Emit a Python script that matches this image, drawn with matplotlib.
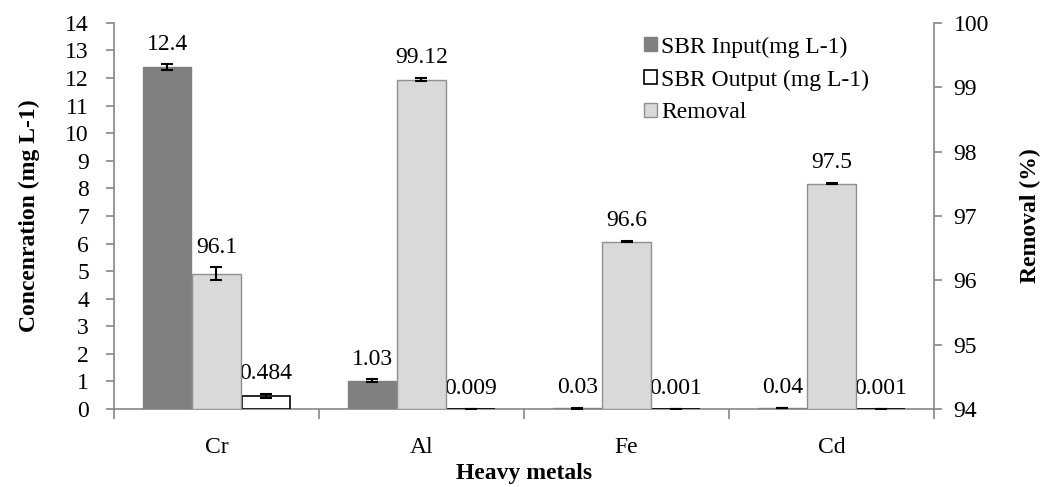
import numpy as np
import matplotlib.pyplot as plt

plt.rcParams['font.family'] = ['Liberation Serif', 'DejaVu Serif']

metals = ['Cr', 'Al', 'Fe', 'Cd']
sbr_input = [12.4, 1.03, 0.03, 0.04]
input_err = [0.1, 0.05, 0.01, 0.01]
sbr_output = [0.484, 0.009, 0.001, 0.001]
output_err = [0.08, 0.003, 0.001, 0.001]
removal = [96.1, 99.12, 96.6, 97.5]
removal_err = [0.1, 0.03, 0.01, 0.01]

input_lbl = ['12.4', '1.03', '0.03', '0.04']
output_lbl = ['0.484', '0.009', '0.001', '0.001']
removal_lbl = ['96.1', '99.12', '96.6', '97.5']

gray_axis = '#868686'
fs = 17

fig = plt.figure(figsize=(10.4, 4.87), dpi=100)
ax = fig.add_axes([0.1096, 0.160, 0.7885, 0.793])
ax2 = ax.twinx()

x = np.arange(len(metals))
w = 0.235
off = 0.24
ekw = dict(elinewidth=1.5, capthick=1.5)

b1 = ax.bar(x - off, sbr_input, w, color='#808080', edgecolor='#808080',
            yerr=input_err, capsize=4, error_kw=ekw, zorder=3)
b3 = ax.bar(x + off, sbr_output, w, color='white', edgecolor='black', linewidth=1.2,
            yerr=output_err, capsize=4, error_kw=ekw, zorder=3)
b2 = ax2.bar(x, np.array(removal) - 94, w, bottom=94, color='#d9d9d9', edgecolor='#909090',
             yerr=removal_err, capsize=4, error_kw=ekw, zorder=3)

for xi, v, e, t in zip(x - off, sbr_input, input_err, input_lbl):
    ax.annotate(t, (xi, v + e), xytext=(0, 7), textcoords='offset points',
                ha='center', va='bottom', fontsize=fs)
for xi, v, e, t in zip(x + off, sbr_output, output_err, output_lbl):
    ax.annotate(t, (xi, v + e), xytext=(0, 7), textcoords='offset points',
                ha='center', va='bottom', fontsize=fs)
for xi, v, e, t in zip(x, removal, removal_err, removal_lbl):
    ax2.annotate(t, (xi, v + e), xytext=(0, 7), textcoords='offset points',
                 ha='center', va='bottom', fontsize=fs)

ax.set_xlim(-0.5, len(metals) - 0.5)
ax.set_ylim(0, 14)
ax.set_yticks(range(0, 15))
ax2.set_ylim(94, 100)
ax2.set_yticks(range(94, 101))

ax.set_xticks(x)
ax.set_xticklabels(metals, fontsize=fs)
ax.set_xticks(np.arange(-0.5, len(metals)), minor=True)
ax.tick_params(axis='x', which='major', length=0, pad=20)
ax.tick_params(axis='x', which='minor', length=7, color=gray_axis, width=1.2)
ax.tick_params(axis='y', labelsize=fs, length=6, color=gray_axis, width=1.2, pad=12)
ax2.tick_params(axis='y', labelsize=fs, length=6, color=gray_axis, width=1.2, pad=8)

for a in (ax, ax2):
    a.spines['top'].set_visible(False)
    for s in ('left', 'right', 'bottom'):
        a.spines[s].set_color(gray_axis)
        a.spines[s].set_linewidth(1.2)
ax.spines['right'].set_visible(False)
ax2.spines['left'].set_visible(False)
ax2.spines['bottom'].set_visible(False)

ax.set_xlabel('Heavy metals', fontsize=fs, fontweight='bold', labelpad=4)
ax.set_ylabel('Concenration (mg L-1)', fontsize=fs, fontweight='bold', labelpad=18)
ax2.set_ylabel('Removal (%)', fontsize=fs, fontweight='bold', labelpad=22)

ax.legend([b1, b3, b2], ['SBR Input(mg L-1)', 'SBR Output (mg L-1)', 'Removal'],
          loc='upper left', bbox_to_anchor=(0.62, 1.02), frameon=False, fontsize=fs,
          handlelength=0.55, handleheight=0.55, handletextpad=0.2, labelspacing=0.5)

fig.savefig('out.png', dpi=100)
